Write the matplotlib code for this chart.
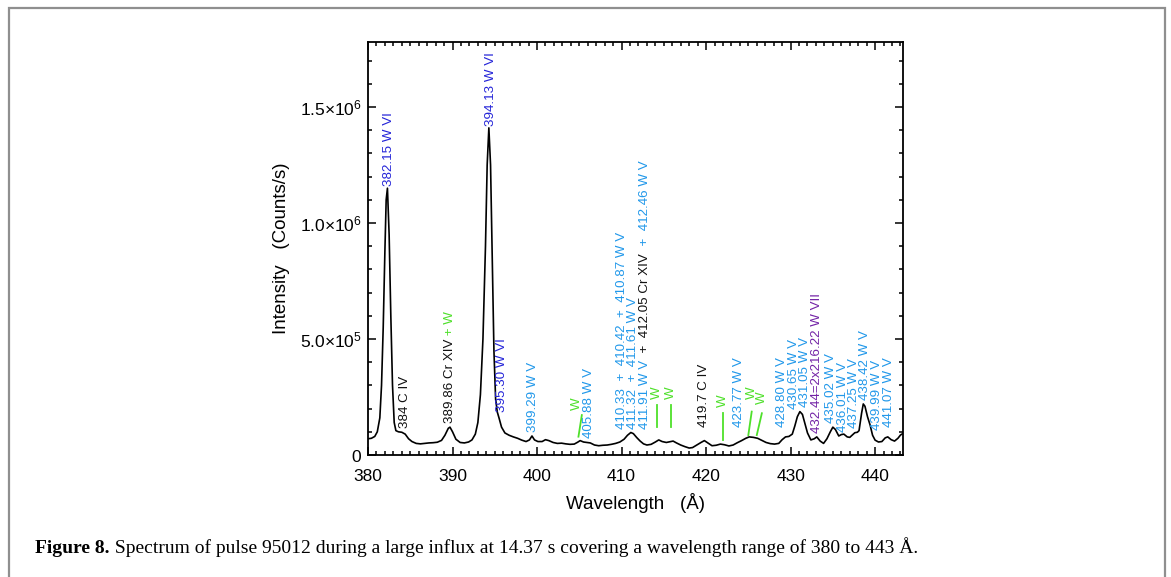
import numpy as np
import matplotlib
matplotlib.use("Agg")
import matplotlib.pyplot as plt
from matplotlib.ticker import MultipleLocator, FixedLocator, FixedFormatter
from matplotlib.patches import Rectangle

# ---------------- data ----------------
wavelength = [
    380.0, 380.4, 380.8, 381.1, 381.4, 381.6, 381.8, 382.0, 382.15, 382.3,
    382.5, 382.7, 382.9, 383.1, 383.3, 383.6, 384.0, 384.4, 384.8, 385.2,
    385.7, 386.2, 386.7, 387.2, 387.7, 388.2, 388.7, 389.1, 389.5, 389.7,
    390.0, 390.4, 390.9, 391.4, 391.9, 392.3, 392.7, 393.0, 393.3, 393.6,
    393.9, 394.1, 394.3, 394.5, 394.7, 394.9, 395.1, 395.3, 395.5, 395.8,
    396.2, 396.7, 397.2, 397.7, 398.2, 398.7, 399.1, 399.4, 399.7, 400.1,
    400.6, 401.0, 401.4, 401.9, 402.4, 402.9, 403.4, 403.9, 404.4, 404.8,
    405.1, 405.5, 405.9, 406.3, 406.8, 407.3, 407.8, 408.3, 408.8, 409.3,
    409.8, 410.3, 410.7, 411.1, 411.4, 411.8, 412.2, 412.6, 413.0, 413.5,
    414.0, 414.4, 414.8, 415.3, 415.8, 416.1, 416.5, 417.0, 417.5, 418.0,
    418.4, 418.9, 419.4, 419.8, 420.2, 420.7, 421.2, 421.7, 422.2, 422.7,
    423.2, 423.7, 424.2, 424.7, 425.1, 425.6, 426.1, 426.6, 427.1, 427.6,
    428.1, 428.6, 429.0, 429.4, 429.8, 430.2, 430.5, 430.8, 431.1, 431.4,
    431.7, 432.0, 432.4, 432.8, 433.1, 433.5, 433.9, 434.3, 434.7, 435.0,
    435.3, 435.7, 436.0, 436.3, 436.7, 437.0, 437.3, 437.6, 437.9, 438.1,
    438.4, 438.6, 438.8, 439.1, 439.4, 439.7, 440.0, 440.4, 440.8, 441.2,
    441.5, 441.9, 442.3, 442.7, 443.0, 443.3,
]
intensity = [
    7.0e4, 7.2e4, 8.0e4, 1.0e5, 1.6e5, 3.0e5, 5.5e5, 8.8e5, 1.10e6, 1.15e6,
    9.5e5, 6.0e5, 3.0e5, 1.4e5, 1.05e5, 1.0e5, 9.8e4, 9.0e4, 7.0e4, 5.8e4,
    5.0e4, 4.8e4, 5.0e4, 5.2e4, 5.3e4, 5.5e4, 6.3e4, 8.5e4, 1.15e5, 1.2e5,
    1.0e5, 6.8e4, 5.4e4, 5.2e4, 5.6e4, 6.5e4, 9.0e4, 1.4e5, 2.6e5, 5.0e5,
    9.0e5, 1.25e6, 1.41e6, 1.25e6, 8.5e5, 4.5e5, 2.4e5, 1.85e5, 1.6e5, 1.2e5,
    9.5e4, 8.5e4, 7.8e4, 7.2e4, 6.4e4, 5.8e4, 6.5e4, 8.2e4, 6.5e4, 5.8e4,
    5.8e4, 6.6e4, 6.2e4, 5.4e4, 5.0e4, 5.1e4, 4.8e4, 4.6e4, 4.7e4, 5.5e4,
    6.2e4, 5.6e4, 5.4e4, 5.2e4, 4.3e4, 4.0e4, 4.2e4, 4.3e4, 4.6e4, 5.0e4,
    5.6e4, 6.8e4, 8.5e4, 9.7e4, 9.2e4, 7.5e4, 6.0e4, 4.8e4, 4.3e4, 4.6e4,
    5.6e4, 6.5e4, 5.8e4, 5.4e4, 5.8e4, 6.0e4, 5.2e4, 4.3e4, 3.6e4, 3.0e4,
    3.2e4, 4.3e4, 5.4e4, 6.2e4, 5.2e4, 4.0e4, 4.2e4, 4.7e4, 4.4e4, 3.9e4,
    4.3e4, 5.3e4, 6.2e4, 7.2e4, 7.8e4, 7.6e4, 7.2e4, 6.3e4, 5.4e4, 4.9e4,
    4.7e4, 5.0e4, 6.6e4, 7.8e4, 8.0e4, 9.0e4, 1.25e5, 1.65e5, 1.87e5, 1.75e5,
    1.35e5, 9.5e4, 6.5e4, 7.0e4, 7.8e4, 6.0e4, 5.0e4, 7.0e4, 1.0e5, 1.2e5,
    1.1e5, 8.2e4, 8.8e4, 9.0e4, 7.8e4, 7.6e4, 8.6e4, 9.6e4, 9.8e4, 1.05e5,
    1.8e5, 2.2e5, 2.1e5, 1.65e5, 1.3e5, 8.5e4, 6.4e4, 5.6e4, 5.8e4, 7.4e4,
    7.8e4, 6.6e4, 6.0e4, 7.2e4, 8.6e4, 9.3e4,
]

x_ticks = [380, 390, 400, 410, 420, 430, 440]
x_ticklabels = ["380", "390", "400", "410", "420", "430", "440"]
y_ticks = [0, 5e5, 1e6, 1.5e6]
y_ticklabels = [r"$0$", r"$5.0{\times}10^{5}$", r"$1.0{\times}10^{6}$", r"$1.5{\times}10^{6}$"]

# line identifications: x (A), y (counts/s) of the label foot, text pieces
DB = "#2424d8"   # W VI
LB = "#2198ea"   # W V
GR = "#4ee02a"   # W
PU = "#7323a6"   # W VII
K = "#111111"
label_x = [382.5, 384.4, 389.7, 394.6, 395.9, 399.5, 406.1, 410.0, 411.4, 412.8,
           419.8, 423.95, 429.0, 430.4, 431.7, 433.1, 434.8, 436.25, 437.55, 438.85,
           440.2, 441.6]
label_y = [1.16e6, 1.15e5, 1.37e5, 1.42e6, 1.87e5, 1.0e5, 7.2e4, 1.12e5, 1.12e5, 1.12e5,
           1.22e5, 1.22e5, 1.22e5, 2.0e5, 2.07e5, 9.3e4, 1.37e5, 1.0e5, 1.15e5, 2.37e5,
           1.08e5, 1.22e5]
label_parts = [
    [("382.15 W VI", DB)],
    [("384 C IV", K)],
    [("389.86 Cr XIV", K), (" + W", GR)],
    [("394.13 W VI", DB)],
    [("395.30 W VI", DB)],
    [("399.29 W V", LB)],
    [("405.88 W V", LB)],
    [("410.33  +  410.42  +  410.87 W V", LB)],
    [("411.32  +  411.61 W V", LB)],
    [("411.91 W V", LB), ("  +  412.05 Cr XIV", K), ("  +  412.46 W V", LB)],
    [("419.7 C IV", K)],
    [("423.77 W V", LB)],
    [("428.80 W V", LB)],
    [("430.65 W V", LB)],
    [("431.05 W V", LB)],
    [("432.44=2x216.22 W VII", PU)],
    [("435.02 W V", LB)],
    [("436.01 W V", LB)],
    [("437.25 W V", LB)],
    [("438.42 W V", LB)],
    [("439.99 W V", LB)],
    [("441.07 W V", LB)],
]

# green "W" markers: tick line from (x0,y0) to (x1,y1), letter at (xt,yt)
w_x0 = [404.9, 414.2, 415.9, 422.0, 425.0, 426.0]
w_y0 = [7.9e4, 1.22e5, 1.22e5, 6.5e4, 8.6e4, 8.6e4]
w_x1 = [405.3, 414.2, 415.9, 422.0, 425.4, 426.6]
w_y1 = [1.72e5, 2.16e5, 2.16e5, 1.8e5, 1.87e5, 1.8e5]
w_xt = [404.75, 414.2, 415.9, 422.0, 425.4, 426.6]
w_yt = [1.94e5, 2.4e5, 2.4e5, 2.08e5, 2.4e5, 2.2e5]

caption_bold = "Figure 8."
caption_text = " Spectrum of pulse 95012 during a large influx at 14.37 s covering a wavelength range of 380 to 443 Å."

# ---------------- figure ----------------
W, H = 1171, 577
fig = plt.figure(figsize=(W / 100, H / 100), dpi=100)
fig.patch.set_facecolor("white")
SANS = ["Liberation Sans", "DejaVu Sans"]
SERIF = ["Liberation Serif", "DejaVu Serif"]
plt.rcParams["font.family"] = SANS
plt.rcParams["mathtext.fontset"] = "custom"
plt.rcParams["mathtext.rm"] = "Liberation Sans"
plt.rcParams["mathtext.it"] = "Liberation Sans"

L, R, T, B = 368, 903, 42, 455
ax = fig.add_axes([L / W, 1 - B / H, (R - L) / W, (B - T) / H])
ax.plot(wavelength, intensity, color="black", lw=1.2)
ax.set_xlim(380, 443.3)
ax.set_ylim(0, 1.78e6)

ax.xaxis.set_major_locator(FixedLocator(x_ticks))
ax.xaxis.set_major_formatter(FixedFormatter(x_ticklabels))
ax.xaxis.set_minor_locator(MultipleLocator(1))
ax.yaxis.set_major_locator(FixedLocator(y_ticks))
ax.yaxis.set_major_formatter(FixedFormatter(y_ticklabels))
ax.yaxis.set_minor_locator(MultipleLocator(1e5))
ax.tick_params(which="both", direction="in", top=True, right=True, width=1.1, colors="black")
ax.tick_params(which="major", length=6)
ax.tick_params(which="minor", length=3)
ax.tick_params(axis="x", which="major", labelsize=12.5, pad=10)
ax.tick_params(axis="y", which="major", labelsize=12.5, pad=4)
for s in ax.spines.values():
    s.set_linewidth(1.3)

fig.text(282 / W, 1 - 248 / H, "Intensity   (Counts/s)", rotation=90,
         ha="center", va="center", fontsize=13.5)
fig.text(635 / W, 1 - 503 / H, "Wavelength   (Å)", ha="center", va="center", fontsize=13.5)

FS = 9.6
for x, y, parts in zip(label_x, label_y, label_parts):
    s0, c0 = parts[0]
    prev = ax.text(x, y, s0, color=c0, rotation=90, ha="center", va="bottom", fontsize=FS)
    for s, c in parts[1:]:
        prev = ax.annotate(s, xy=(0.5, 1.0), xycoords=prev, rotation=90,
                           ha="center", va="bottom", color=c, fontsize=FS)

for x0, y0, x1, y1, xt, yt in zip(w_x0, w_y0, w_x1, w_y1, w_xt, w_yt):
    ax.plot([x0, x1], [y0, y1], color=GR, lw=1.3)
    ax.text(xt, yt, "W", color=GR, rotation=90, ha="center", va="bottom", fontsize=FS)

# caption (bold lead-in followed by regular text on the same baseline)
cap_base = 1 - 553 / H
t1 = fig.text(35 / W, cap_base, caption_bold, fontsize=14, fontweight="bold",
              family=SERIF, va="baseline", ha="left")
fig.canvas.draw()
bb = t1.get_window_extent(fig.canvas.get_renderer())
fig.text(bb.x1 / W, cap_base, caption_text, fontsize=14, family=SERIF,
         va="baseline", ha="left")

# frame around figure
fig.add_artist(Rectangle((9 / W, -0.05), (1165 - 9) / W, 1.05 - 8 / H,
                         transform=fig.transFigure, fill=False,
                         edgecolor="#8f8f8f", lw=1.6))

fig.savefig("out.png", dpi=100, facecolor="white")
